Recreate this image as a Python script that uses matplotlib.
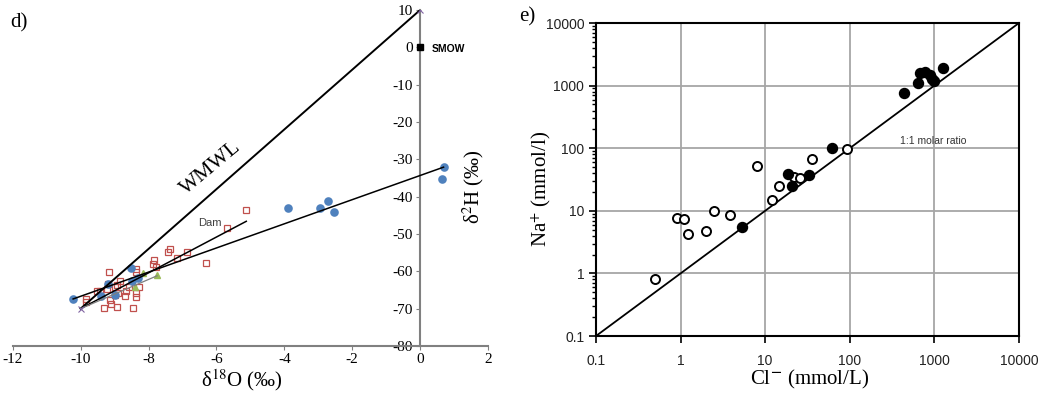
import matplotlib
matplotlib.use('Agg')
import matplotlib.pyplot as plt
import numpy as np

matplotlib.rc('font', family=['Liberation Serif', 'DejaVu Serif'])
matplotlib.rcParams['mathtext.fontset'] = 'stix'
matplotlib.rcParams['axes.unicode_minus'] = False

# ---- panel d) : stable isotopes ----
blue_x = [-10.22, -9.19, -9.40, -9.00, -8.53, -8.50, -8.31, -3.90, -2.95, -2.72, -2.53, 0.69, 0.64]
blue_y = [-67.4, -63.4, -66.5, -66.3, -59.2, -62.6, -61.9, -43.1, -43.1, -41.1, -44.1, -32.1, -35.2]

red_x = [-5.12, -5.69, -7.36, -7.43, -6.87, -7.16, -7.84, -7.87, -7.77, -6.30,
         -9.17, -8.38, -8.36, -8.83, -8.28, -9.53, -9.43, -9.22, -8.99, -8.89,
         -8.67, -8.57, -8.70, -8.38, -8.38, -9.85, -9.85, -9.14, -9.11, -8.92,
         -9.31, -8.47, -9.19, -8.94, -8.99]
red_y = [-43.6, -48.3, -54.1, -54.9, -54.7, -56.3, -57.0, -58.0, -58.8, -57.9,
         -60.2, -59.5, -60.1, -62.5, -64.1, -65.2, -65.4, -64.8, -64.3, -65.7,
         -65.2, -64.3, -66.5, -65.9, -66.8, -67.5, -68.1, -67.7, -68.8, -69.5,
         -69.9, -69.9, -63.4, -63.7, -66.3]

green_x = [-8.16, -7.75, -8.40]
green_y = [-60.5, -61.0, -64.1]

wmwl_x = [-10, 0]
wmwl_y = [-70, 10]
dam_x = [-10, -5.12]
dam_y = [-70, -46.6]
reg_x = [-10.22, 0.69]
reg_y = [-67.4, -32.1]
grn_line_x = [-10, -7.75]
grn_line_y = [-70, -61.2]

# ---- panel e) : Na vs Cl ----
open_cl = [0.50, 0.90, 1.10, 1.21, 2.0, 2.48, 3.84, 7.93, 12.1, 14.7, 21.9, 25.8, 35.5, 91.8]
open_na = [0.81, 7.76, 7.3, 4.26, 4.75, 10.0, 8.57, 52.5, 14.9, 25.2, 34.3, 33.0, 66.5, 97.0]
fill_cl = [5.27, 18.4, 20.6, 33.0, 61.0, 437, 646, 676, 774, 887, 929, 989, 1274]
fill_na = [5.57, 38.7, 25.2, 37.3, 102, 753, 1089, 1607, 1667, 1476, 1262, 1197, 1888]
ratio_line = [0.1, 10000]

fig = plt.figure(figsize=(10.41, 3.93), dpi=100)

# panel d
ax = fig.add_axes([0.0122, 0.1196, 0.4566, 0.855])
ax.set_xlim(-12, 2)
ax.set_ylim(-80, 10)
for s in ['top', 'right']:
    ax.spines[s].set_visible(False)
ax.spines['left'].set_position(('data', 0))
ax.spines['left'].set_color('#808080')
ax.spines['bottom'].set_color('#808080')
ax.spines['left'].set_linewidth(1.5)
ax.spines['bottom'].set_linewidth(1.5)
ax.set_xticks(range(-12, 3, 2))
ax.set_yticks(range(-80, 11, 10))
ax.tick_params(axis='both', colors='#808080', labelcolor='black', labelsize=11, length=3, pad=2)

ax.plot(wmwl_x, wmwl_y, color='black', lw=1.4, zorder=3)
ax.plot(dam_x, dam_y, color='black', lw=1.1, zorder=3)
ax.plot(reg_x, reg_y, color='black', lw=1.1, zorder=3)
ax.plot(grn_line_x, grn_line_y, color='#7f7f7f', lw=0.9, zorder=3)
ax.plot(wmwl_x, wmwl_y, ls='none', marker='x', ms=4, mew=0.8, color='#8064A2', zorder=4)

ax.plot(red_x, red_y, ls='none', marker='s', ms=4.5, mfc='none', mec='#C0504D', mew=0.9, zorder=2)
ax.plot(green_x, green_y, ls='none', marker='^', ms=4.5, color='#9BBB59', zorder=2)
ax.plot(blue_x, blue_y, ls='none', marker='o', ms=6.2, color='#4F81BD', mec='none', zorder=2)
ax.plot([0], [0], ls='none', marker='s', ms=5, color='black', zorder=5, clip_on=False)

ax.text(0.35, -0.5, 'SMOW', family='Liberation Sans', fontsize=7.5, fontweight='bold', va='center')
ax.text(-6.55, -47.0, 'Dam', family='Liberation Sans', fontsize=8, color='#404040', va='center')
ax.text(-6.15, -32.4, 'WMWL', fontsize=15.5, rotation=40, ha='center', va='center')
ax.text(0.968, 0.473, r'δ$^2$H (‰)', transform=ax.transAxes, fontsize=15,
        rotation=90, ha='center', va='center')
fig.text(241.5 / 1041, 1 - 380 / 393, r'δ$^{18}$O (‰)', fontsize=15, ha='center', va='center')
fig.text(19 / 1041, 1 - 23 / 393, 'd)', fontsize=15, ha='center', va='center')

# panel e
bx = fig.add_axes([0.5725, 0.145, 0.4063, 0.7964])
bx.set_xscale('log')
bx.set_yscale('log')
bx.set_xlim(0.1, 10000)
bx.set_ylim(0.1, 10000)
ticks = [0.1, 1, 10, 100, 1000, 10000]
labels = ['0.1', '1', '10', '100', '1000', '10000']
bx.set_xticks(ticks)
bx.set_xticklabels(labels)
bx.set_yticks(ticks)
bx.set_yticklabels(labels)
bx.xaxis.set_minor_locator(matplotlib.ticker.NullLocator())
bx.yaxis.set_minor_locator(matplotlib.ticker.LogLocator(base=10, subs=np.arange(2, 10)))
bx.yaxis.set_minor_formatter(matplotlib.ticker.NullFormatter())
for lab in bx.get_xticklabels() + bx.get_yticklabels():
    lab.set_family('Liberation Sans')
bx.tick_params(axis='both', which='major', length=5, width=1.2, labelsize=10, labelcolor='#222222')
bx.tick_params(axis='x', which='major', pad=8)
bx.tick_params(axis='y', which='minor', length=3, width=1.0)
for s in bx.spines.values():
    s.set_linewidth(1.5)
bx.grid(True, which='major', color='#a6a6a6', lw=1.3)
bx.set_axisbelow(True)

bx.plot(ratio_line, ratio_line, color='black', lw=1.3, zorder=3)
bx.plot(open_cl, open_na, ls='none', marker='o', ms=6.5, mfc='white', mec='black', mew=1.4, zorder=4)
bx.plot(fill_cl, fill_na, ls='none', marker='o', ms=7.2, color='black', zorder=4)
bx.text(980, 132, '1:1 molar ratio', family='Liberation Sans', fontsize=7.5, color='#333333',
        ha='center', va='center')

fig.text(541 / 1041, 1 - 189 / 393, r'Na$^{+}$ (mmol/l)', fontsize=15, rotation=90, ha='center', va='center')
fig.text(810 / 1041, 1 - 379 / 393, r'Cl$^{\mathbf{-}}$ (mmol/L)', fontsize=15, ha='center', va='center')
fig.text(527 / 1041, 1 - 17 / 393, 'e)', fontsize=15, ha='center', va='center')

fig.savefig('out.png', dpi=100)
